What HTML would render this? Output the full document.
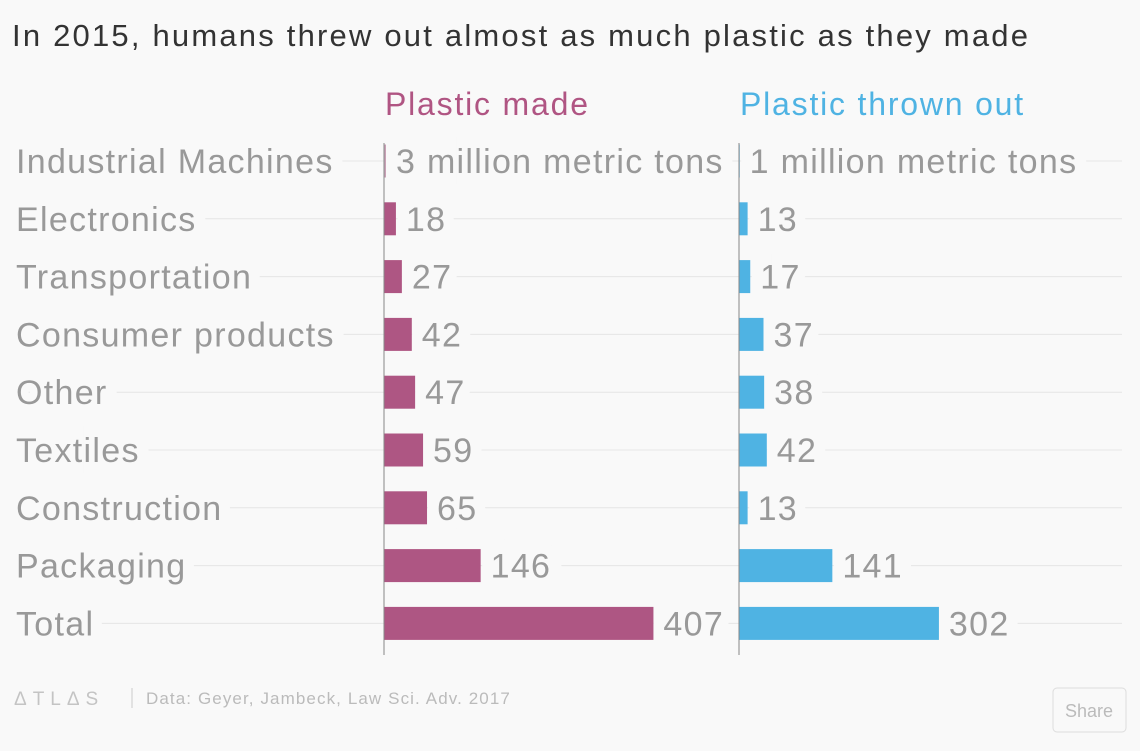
<!DOCTYPE html>
<html><head><meta charset="utf-8"><style>
body{margin:0;background:#f9f9f9;font-family:"Liberation Sans",sans-serif}
</style></head><body>
<svg width="1140" height="746" xmlns="http://www.w3.org/2000/svg" id="chart" style="font-family:'Liberation Sans',sans-serif">
<rect width="1140" height="746" fill="#f9f9f9"/>
<text x="12" y="46" font-size="31" letter-spacing="2.2" fill="#333">In 2015, humans threw out almost as much plastic as they made</text>
<text x="385" y="115" font-size="32" letter-spacing="1.8" fill="#b05583">Plastic made</text>
<text x="740" y="115" font-size="32" letter-spacing="1.8" fill="#4fb3e3">Plastic thrown out</text>
<g id="grid"></g><g id="labels"></g><g id="marks"></g>
<line x1="384" y1="143" x2="384" y2="655" stroke="#888" stroke-width="1"/>
<line x1="739" y1="143" x2="739" y2="655" stroke="#888" stroke-width="1"/>
<text x="14" y="705" font-size="19" fill="#c4c4c4" letter-spacing="6">ΔTLΔS</text>
<line x1="132" y1="688" x2="132" y2="708" stroke="#ccc"/>
<text x="146" y="704" font-size="17" letter-spacing="1.1" fill="#bbb">Data:  Geyer, Jambeck, Law Sci. Adv. 2017</text>
<rect x="1053" y="688" width="73" height="44" rx="4" fill="none" stroke="#ddd"/>
<text x="1089" y="717" font-size="18" fill="#bbb" text-anchor="middle">Share</text>
</svg>
<script>
const categories=["Industrial Machines","Electronics","Transportation","Consumer products","Other","Textiles","Construction","Packaging","Total"];
const made=[3,18,27,42,47,59,65,146,407];
const thrown=[1,13,17,37,38,42,13,141,302];
const madeLabels=["3 million metric tons","18","27","42","47","59","65","146","407"];
const thrownLabels=["1 million metric tons","13","17","37","38","42","13","141","302"];
const NS="http://www.w3.org/2000/svg";
const scale=0.662, rowY=i=>161+i*57.8, bh=33;
const xMade=v=>384+v*scale, xThrown=v=>739+v*scale;
const grid=document.getElementById('grid'), labels=document.getElementById('labels'), marks=document.getElementById('marks');
function mk(tag,attrs,parent){const e=document.createElementNS(NS,tag);for(const k in attrs)e.setAttribute(k,attrs[k]);parent.appendChild(e);return e;}
const txt={'font-size':34,'letter-spacing':1.3,fill:'#999',stroke:'#f9f9f9','stroke-width':22,'paint-order':'stroke'};
categories.forEach((c,i)=>{
  const y=rowY(i);
  const g=mk('line',{x1:16,x2:1122,y1:y,y2:y,stroke:'#e6e6e6','stroke-width':1},grid);
  
  
  const t=mk('text',Object.assign({x:16,y:y+12},txt),labels);
  t.textContent=c;
  
  
  const v1=mk('text',Object.assign({x:xMade(made[i])+10,y:y+12},txt),labels);
  v1.textContent=madeLabels[i];
  
  
  const v2=mk('text',Object.assign({x:xThrown(thrown[i])+10,y:y+12},txt),labels);
  v2.textContent=thrownLabels[i];
  
  
  const b1=mk('rect',{x:384,y:y-bh/2,width:Math.max(1,xMade(made[i])-384),height:bh,fill:i===0?'#c9a0b6':'#ae5683'},marks);
  
  
  const b2=mk('rect',{x:739,y:y-bh/2,width:Math.max(1,xThrown(thrown[i])-739),height:bh,fill:i===0?'#a9d6ee':'#4fb3e3'},marks);
  
  
});
</script>
</body></html>
